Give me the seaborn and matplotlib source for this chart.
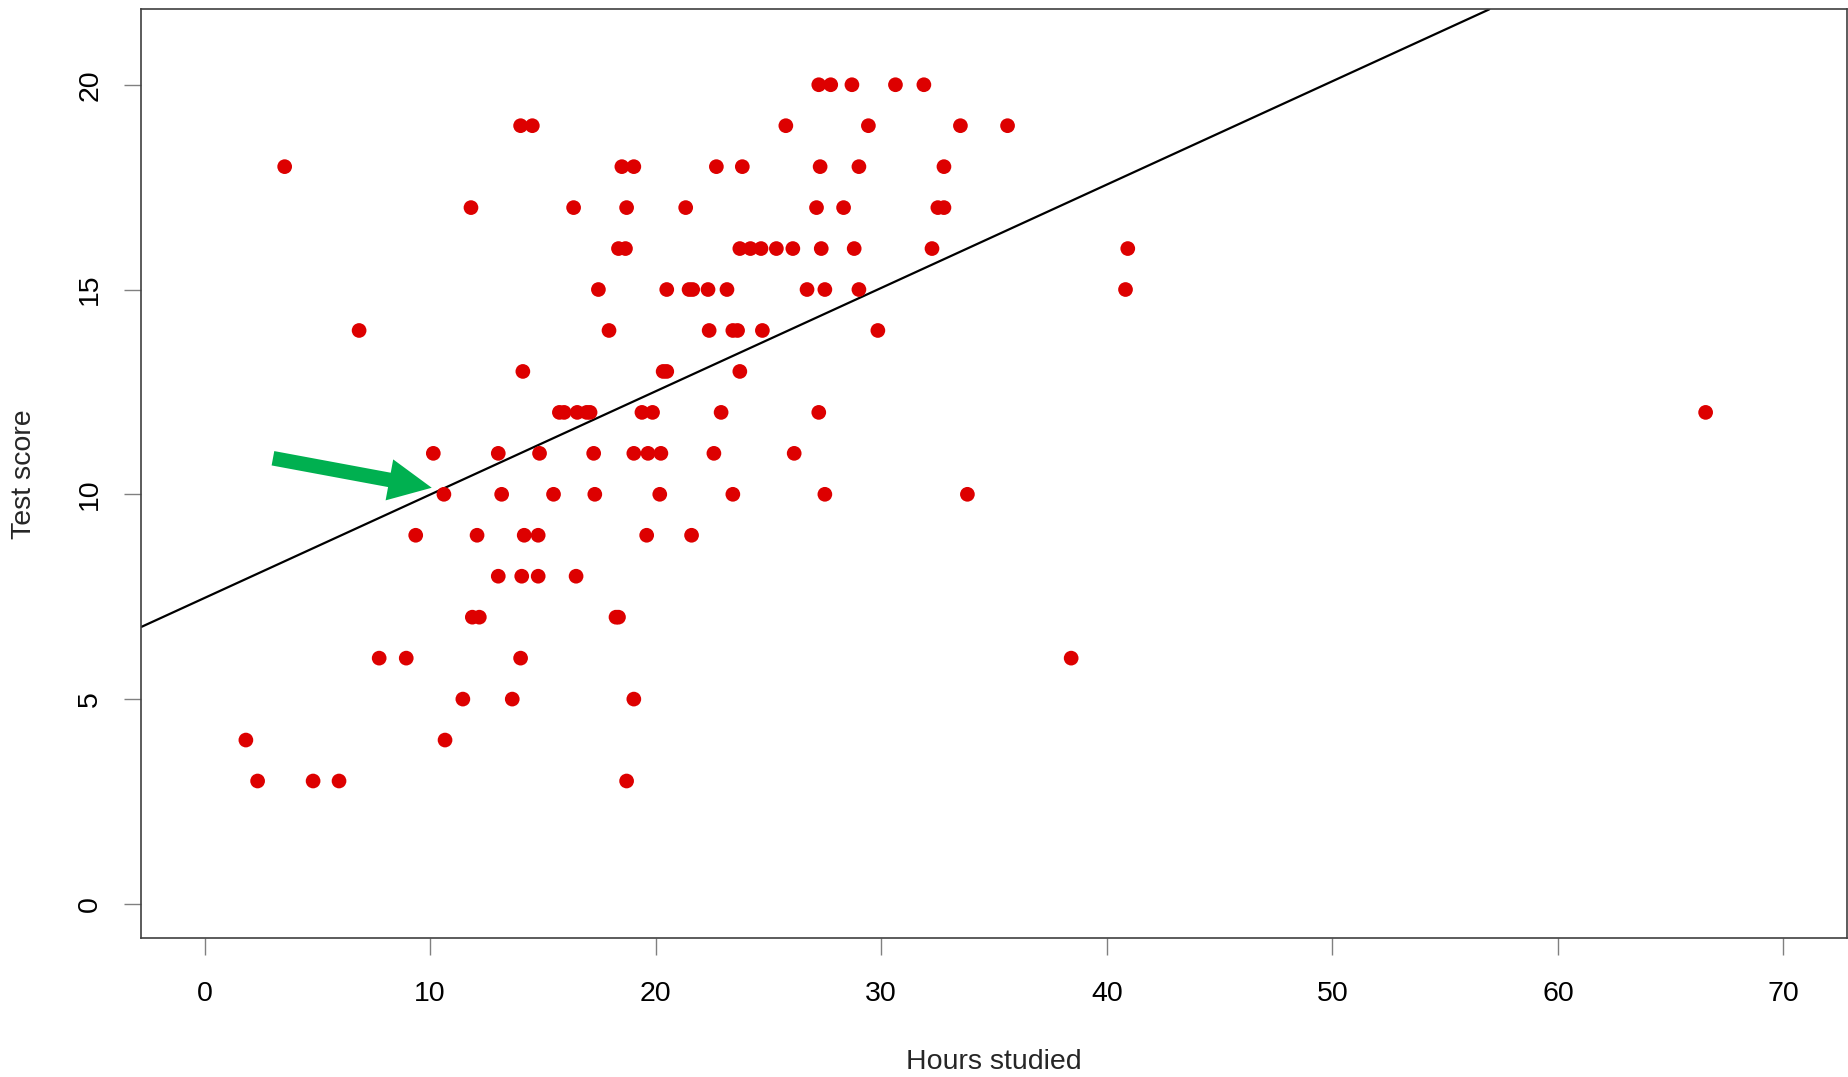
import matplotlib
matplotlib.use("Agg")
import matplotlib.pyplot as plt
import seaborn as sns
import pandas as pd
from matplotlib.patches import FancyArrowPatch, ArrowStyle

# ---- data ----
score_20 = [27.23, 27.76, 28.70, 30.63, 31.89]
score_19 = [14.01, 14.53, 25.77, 29.43, 33.51, 35.60]
score_18 = [3.55, 18.50, 19.03, 22.69, 23.84, 27.29, 29.01, 32.78]
score_17 = [11.81, 16.36, 18.71, 21.33, 27.13, 28.33, 32.51, 32.78]
score_16 = [18.35, 18.66, 23.73, 24.20, 24.67, 25.35, 26.08, 27.34, 28.80, 32.25, 40.93]
score_15 = [17.46, 20.49, 21.48, 21.64, 22.32, 23.16, 26.71, 27.50, 29.01, 40.83]
score_14 = [6.85, 17.93, 22.37, 23.42, 23.63, 24.73, 29.85]
score_13 = [14.11, 20.33, 20.49, 23.73]
score_12 = [15.73, 15.94, 16.52, 16.94, 17.09, 19.39, 19.86, 22.90, 27.23, 66.55]
score_11 = [10.14, 13.02, 14.85, 17.25, 19.03, 19.66, 20.23, 22.58, 26.14]
score_10 = [10.61, 13.17, 15.47, 17.30, 20.18, 23.42, 27.50, 33.82]
score_9 = [9.36, 12.08, 14.17, 14.79, 19.60, 21.59]
score_8 = [13.02, 14.06, 14.79, 16.47]
score_7 = [11.87, 12.18, 18.24, 18.35]
score_6 = [7.74, 8.94, 14.01, 38.42]
score_5 = [11.45, 13.64, 19.03]
score_4 = [1.83, 10.66]
score_3 = [2.35, 4.81, 5.96, 18.71]

hours_by_score = {
    20: score_20, 19: score_19, 18: score_18, 17: score_17, 16: score_16,
    15: score_15, 14: score_14, 13: score_13, 12: score_12, 11: score_11,
    10: score_10, 9: score_9, 8: score_8, 7: score_7, 6: score_6,
    5: score_5, 4: score_4, 3: score_3,
}

fit_intercept = 7.47
fit_slope = 0.2523

arrow_tail = (3.03, 10.88)
arrow_head = (10.07, 10.16)

x_ticks = [0, 10, 20, 30, 40, 50, 60, 70]
y_ticks = [0, 5, 10, 15, 20]

rows = []
for s, hs in hours_by_score.items():
    for h in hs:
        rows.append({"Hours studied": h, "Test score": s})
df = pd.DataFrame(rows)

# ---- plot ----
sns.set_theme(style="white")
plt.rcParams["font.family"] = ["Liberation Sans", "DejaVu Sans"]

fig = plt.figure(figsize=(18.49, 10.77), dpi=100)
ax = fig.add_axes([0.0765, 0.1288, 0.9222, 0.8625])

sns.scatterplot(data=df, x="Hours studied", y="Test score", ax=ax,
                color="#DD0000", s=112, edgecolor="none", linewidth=0, zorder=3)

ax.axline((0, fit_intercept), slope=fit_slope, color="black", lw=1.6, zorder=2)

arrow = FancyArrowPatch(arrow_tail, arrow_head,
                        arrowstyle=ArrowStyle.Simple(head_length=31, head_width=30, tail_width=10.5),
                        mutation_scale=1, color="#00B050", shrinkA=0, shrinkB=0, zorder=4,
                        linewidth=0)
ax.add_patch(arrow)

ax.set_xlim(-2.8, 72.8)
ax.set_ylim(-0.84, 21.84)
ax.set_xticks(x_ticks)
ax.set_yticks(y_ticks)
ax.set_xticklabels([str(t) for t in x_ticks], fontsize=20.5)
ax.set_yticklabels([str(t) for t in y_ticks], fontsize=20.5, rotation=90, va="center")

for sp in ax.spines.values():
    sp.set_visible(True)
    sp.set_color("#404040")
    sp.set_linewidth(1.2)

ax.tick_params(axis="both", which="major", direction="out", length=12.5, width=1.0,
               color="#808080", labelcolor="black", bottom=True, left=True)
ax.tick_params(axis="x", pad=18.5)
ax.tick_params(axis="y", pad=15)

ax.set_xlabel("Hours studied", fontsize=20.5, labelpad=30)
ax.set_ylabel("Test score", fontsize=20.5, labelpad=29)
ax.grid(False)

fig.savefig("out.png", dpi=100, facecolor="white")
